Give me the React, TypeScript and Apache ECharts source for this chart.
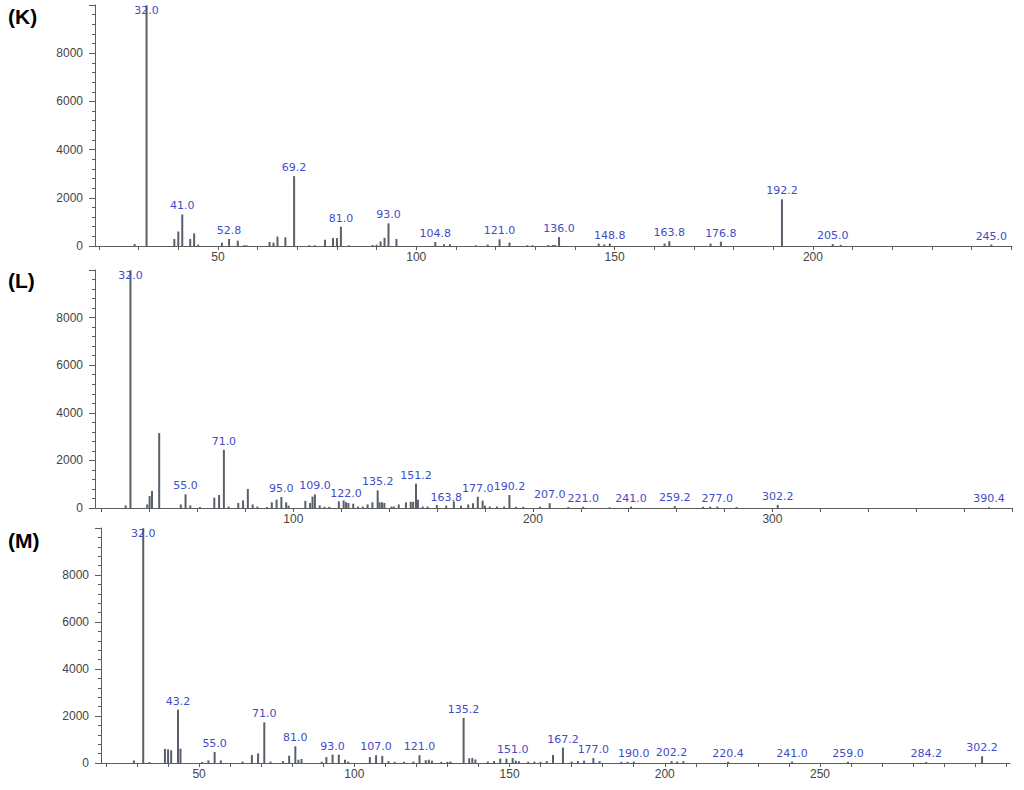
import React, { useEffect, useRef } from "react";
import * as echarts from "echarts";

// ---- Panel K ----
const kMz = [29, 32, 39, 40, 41, 43, 44, 45, 51, 52.8, 55, 56.6, 57.2, 63, 64, 65, 67, 69.2, 73, 74.4, 77, 79, 80, 81, 83, 89, 90, 91, 92, 93, 95, 104.8, 107, 108.5, 115, 118, 121, 123.5, 128, 129.3, 133.3, 134.4, 135, 136, 146, 147.4, 148.8, 162.6, 163.8, 174.2, 176.8, 192.2, 205, 207, 245];
const kInt = [80, 9990, 290, 600, 1310, 290, 525, 55, 140, 290, 220, 30, 30, 165, 140, 390, 360, 2900, 30, 30, 260, 330, 330, 800, 30, 40, 50, 190, 340, 940, 290, 165, 70, 70, 30, 60, 280, 140, 30, 30, 40, 40, 40, 370, 100, 60, 100, 100, 200, 100, 180, 1935, 80, 50, 60];
const kLabeled = [32, 41, 52.8, 69.2, 81, 93, 104.8, 121, 136, 148.8, 163.8, 176.8, 192.2, 205, 245];
const kXLabels = [50, 100, 150, 200];

// ---- Panel L ----
const lMz = [30, 32, 39, 40, 41, 44, 53, 55, 57, 61, 67, 69, 71, 73, 77, 79, 81, 83, 85, 89, 91, 93, 95, 97, 98, 105, 107, 108, 109, 111, 113, 115, 119, 121, 122, 123, 125, 127, 129, 131, 133, 135.2, 136, 137, 138, 141, 142, 144, 147, 149, 150, 151.2, 152, 154, 156, 159.9, 163.8, 167, 170, 173, 175, 177, 179, 180, 182, 185, 188, 190.2, 193, 196, 203, 207, 214.8, 221, 232, 241, 259.2, 271, 274, 277, 285, 302.2, 390.4];
const lInt = [110, 9990, 150, 500, 720, 3150, 150, 575, 110, 40, 430, 545, 2450, 60, 210, 320, 800, 150, 60, 40, 240, 350, 460, 240, 100, 300, 210, 480, 570, 110, 50, 50, 280, 320, 240, 210, 180, 60, 60, 150, 240, 740, 240, 240, 210, 60, 60, 150, 240, 260, 260, 1020, 350, 60, 60, 125, 100, 280, 100, 150, 200, 475, 310, 100, 60, 60, 60, 545, 50, 50, 60, 200, 40, 50, 30, 60, 80, 50, 50, 60, 40, 130, 30];
const lLabeled = [32, 55, 71, 95, 109, 122, 135.2, 151.2, 163.8, 177, 190.2, 207, 221, 241, 259.2, 277, 302.2, 390.4];
const lXLabels = [100, 200, 300];

// ---- Panel M ----
const mMz = [29, 32, 34, 39, 40, 41, 43.2, 44, 51, 53, 55, 57, 64, 67, 69, 71, 73, 77, 79, 81, 82, 83, 89.5, 91, 93, 95, 97, 98, 105, 107, 109, 111, 113, 116, 119, 121, 123, 124, 125, 128, 130, 131, 135.2, 137, 138, 139, 143, 145, 147, 149, 151, 152, 153, 156, 158, 160, 162, 164, 167.2, 170, 172, 174, 177, 179, 186, 188, 190, 202.2, 204, 206, 220.4, 241, 259, 284.2, 302.2];
const mInt = [110, 9990, 40, 600, 580, 540, 2270, 610, 40, 110, 470, 110, 60, 340, 410, 1730, 60, 80, 310, 710, 140, 170, 50, 255, 355, 355, 140, 60, 255, 330, 300, 80, 50, 50, 60, 330, 120, 140, 100, 50, 50, 60, 1920, 200, 210, 150, 60, 80, 185, 185, 215, 100, 80, 50, 60, 50, 80, 340, 655, 60, 80, 100, 210, 80, 50, 50, 60, 80, 60, 80, 50, 60, 50, 40, 285];
const mLabeled = [32, 43.2, 55, 71, 81, 93, 107, 121, 135.2, 151, 167.2, 177, 190, 202.2, 220.4, 241, 259, 284.2, 302.2];
const mXLabels = [50, 100, 150, 200, 250];

const yLabels = [0, 2000, 4000, 6000, 8000];
const panelNames = ["(K)", "(L)", "(M)"];

const BAR = "#58606c";
const AXIS = "#5c5c5c";
const PEAK = "#3f4cc8";

function range(a: number, b: number, s: number) {
  const r: number[] = [];
  for (let v = a; v <= b + 1e-9; v += s) r.push(v);
  return r;
}

function buildData(mz: number[], inten: number[], labeled: number[], topOffset: number) {
  return mz.map((m, i) => {
    const item: any = { value: [m, inten[i]] };
    if (labeled.includes(m)) {
      if (m === 32) {
        item.label = {
          show: true,
          formatter: m.toFixed(1),
          position: "insideTop",
          distance: 0,
          offset: [0, topOffset],
        };
      } else {
        item.label = { show: true, formatter: m.toFixed(1) };
      }
    }
    return item;
  });
}

export default function App() {
  const ref = useRef<HTMLDivElement>(null);
  useEffect(() => {
    if (!ref.current) return;
    const chart = echarts.init(ref.current, undefined, { renderer: "svg" });
    const grids = [
      { left: 95, right: 12, top: 5, height: 241 },
      { left: 95, right: 12, top: 270, height: 238 },
      { left: 101, right: 14, top: 528, height: 235 },
    ];
    const xDefs = [
      { min: 19, max: 250.2, ticks: range(20, 250, 10), labels: kXLabels },
      { min: 17.2, max: 400, ticks: range(20, 400, 20), labels: lXLabels },
      { min: 18.4, max: 311.2, ticks: range(20, 310, 10), labels: mXLabels },
    ];
    const xAxis = xDefs.map((d, i) => ({
      type: "value",
      gridIndex: i,
      min: d.min,
      max: d.max,
      axisLine: { show: true, lineStyle: { color: AXIS, width: 1 } },
      axisTick: {
        show: true,
        length: 4,
        customValues: d.ticks,
        lineStyle: { color: AXIS },
      },
      axisLabel: {
        customValues: d.labels,
        formatter: (v: number) => String(v),
        color: "#444",
        fontSize: 12,
        fontFamily: "Arial",
        margin: 5,
      },
      splitLine: { show: false },
    }));
    const yAxis = [0, 1, 2].map((i) => ({
      type: "value",
      gridIndex: i,
      min: 0,
      max: 10000,
      interval: 2000,
      axisLine: { show: true, lineStyle: { color: AXIS, width: 1 } },
      axisTick: { show: true, length: 6, lineStyle: { color: AXIS } },
      minorTick: { show: true, splitNumber: 5, length: 3, lineStyle: { color: AXIS } },
      axisLabel: {
        customValues: yLabels,
        formatter: (v: number) => String(v),
        color: "#444",
        fontSize: 12,
        fontFamily: "Arial",
        margin: 12,
      },
      splitLine: { show: false },
      minorSplitLine: { show: false },
    }));
    const datasets = [
      buildData(kMz, kInt, kLabeled, -6),
      buildData(lMz, lInt, lLabeled, 0),
      buildData(mMz, mInt, mLabeled, 0),
    ];
    const series = datasets.map((data, i) => ({
      type: "bar",
      xAxisIndex: i,
      yAxisIndex: i,
      barWidth: 2,
      data,
      itemStyle: { color: BAR },
      label: {
        show: false,
        position: "top",
        distance: 3,
        color: PEAK,
        fontSize: 11,
        fontFamily: "DejaVu Sans",
      },
      labelLayout: { hideOverlap: false },
    }));
    const titleY = [17, 281, 541];
    chart.setOption({
      animation: false,
      grid: grids,
      xAxis,
      yAxis,
      series,
      graphic: panelNames.map((t, i) => ({
        type: "text",
        left: 8,
        top: titleY[i] - 11,
        style: {
          text: t,
          fontSize: 21,
          fontWeight: "bold",
          fontFamily: "Arial",
          fill: "#000",
        },
      })),
    });
    return () => chart.dispose();
  }, []);
  return (
    <div
      ref={ref}
      style={{ position: "absolute", left: 0, top: 0, width: 1024, height: 790, background: "#fff" }}
    />
  );
}
